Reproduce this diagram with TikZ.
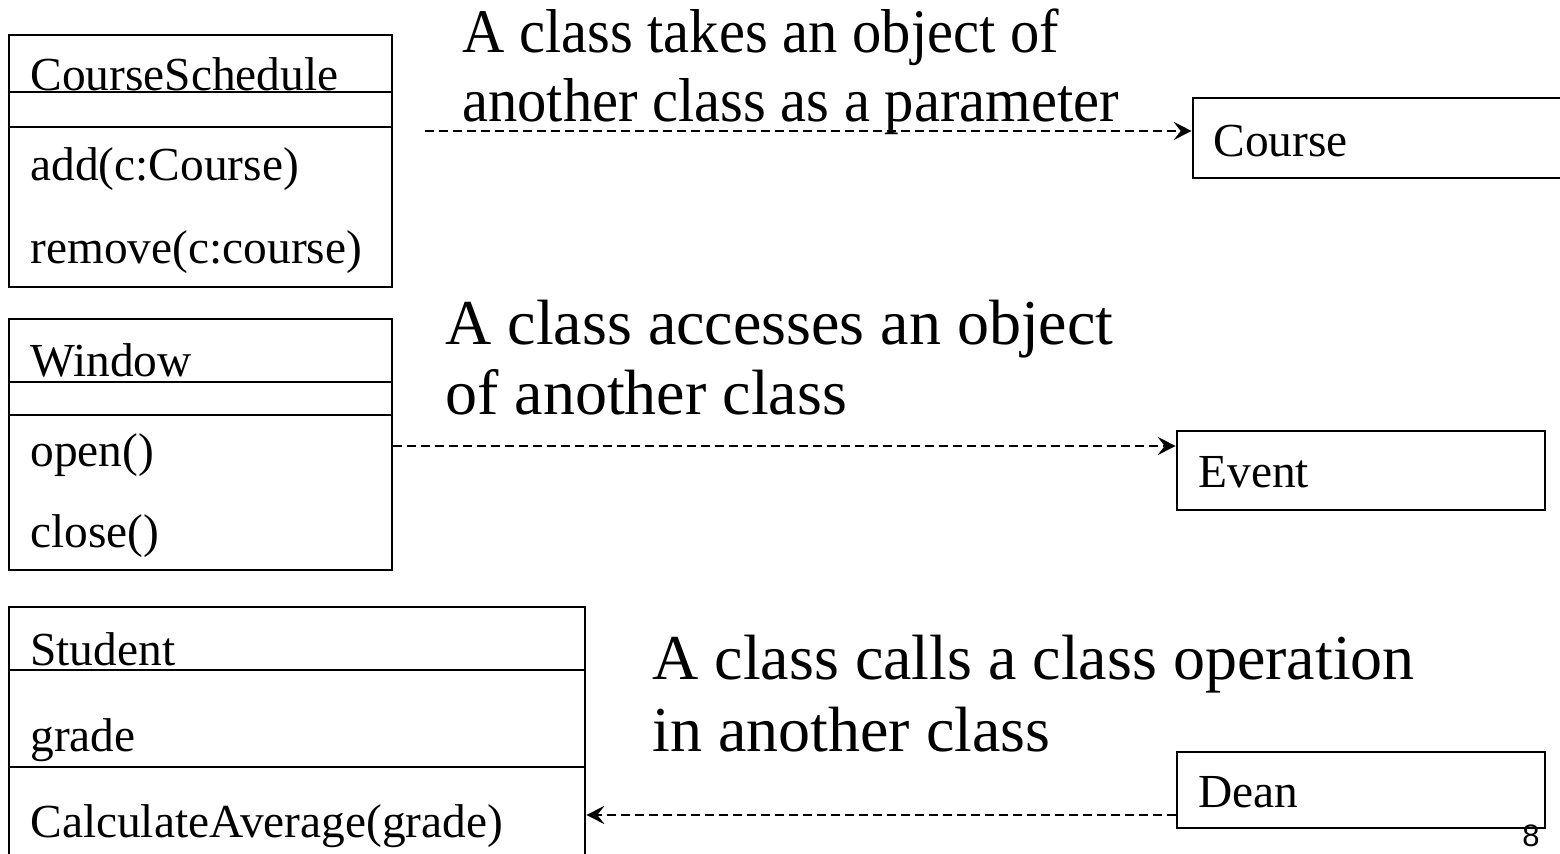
\documentclass[tikz,border=0pt]{standalone}
\usepackage{fontspec}
\setmainfont{Liberation Serif}
\newfontfamily\digitfont{Liberation Sans}
\usetikzlibrary{arrows.meta,fit}
\newcommand{\narrowtext}[1]{\scalebox{0.944}[1]{#1}}
\begin{document}
\begin{tikzpicture}[x=0.5pt,y=-0.5pt,
  classbox/.style={draw,line width=1.3pt,inner sep=0pt},
  divider/.style={line width=1.3pt},
  member/.style={anchor=base west,inner sep=0pt,font=\fontsize{23.7}{28}\selectfont},
  caption/.style={anchor=base west,inner sep=0pt,font=\fontsize{32}{40}\selectfont},
  narrowcaption/.style={anchor=base west,inner sep=0pt,font=\fontsize{31}{38}\selectfont},
  dep/.style={line width=1.3pt,dash pattern=on 4.5pt off 2.5pt,
    -{Stealth[length=9pt,width=9pt,inset=3.5pt]}}]
\useasboundingbox (0,0) rectangle (1560,854);
\clip (0,0) rectangle (1560,854);

% CourseSchedule class
\node[classbox,fit={(9,35) (392,287)}] (cs) {};
\draw[divider] (cs.west |- 0,92) -- (cs.east |- 0,92);
\draw[divider] (cs.west |- 0,127) -- (cs.east |- 0,127);
\node[member] (csname) at (30,91) {CourseSchedule};
\node[member] (csadd) at (30,181) {add(c:Course)};
\node[member] (csrem) at (30,264) {remove(c:course)};

% Window class
\node[classbox,fit={(9,319) (392,570)}] (win) {};
\draw[divider] (win.west |- 0,382) -- (win.east |- 0,382);
\draw[divider] (win.west |- 0,415) -- (win.east |- 0,415);
\node[member] (winname) at (30,377) {Window};
\node[member] (winopen) at (30,467) {open()};
\node[member] (winclose) at (30,548) {close()};

% Student class (runs past the lower edge)
\node[classbox,fit={(9,607) (585,880)}] (stu) {};
\draw[divider] (stu.west |- 0,670) -- (stu.east |- 0,670);
\draw[divider] (stu.west |- 0,767) -- (stu.east |- 0,767);
\node[member] (stuname) at (30,666) {Student};
\node[member] (stugrade) at (30,752) {grade};
\node[member] (stucalc) at (30,838) {CalculateAverage(grade)};

% Right-hand classes
\node[classbox,fit={(1193,98) (1600,178)}] (course) {};
\node[member] (coursename) at (1213,157) {Course};
\node[classbox,fit={(1177,431) (1545,510)}] (event) {};
\node[member] (eventname) at (1198,488) {Event};
\node[classbox,fit={(1177,752) (1545,828)}] (dean) {};
\node[member] (deanname) at (1198,808) {Dean};

% Captions
\node[narrowcaption] (c1a) at (462,53) {\narrowtext{A class takes an object of}};
\node[narrowcaption] (c1b) at (462,122) {\narrowtext{another class as a parameter}};
\node[caption] (c2a) at (445,345) {A class accesses an object};
\node[caption] (c2b) at (445,415) {of another class};
\node[caption] (c3a) at (652,680) {A class calls a class operation};
\node[caption] (c3b) at (652,752) {in another class};

% Dependencies
\coordinate (d1start) at (425,131);
\draw[dep] (d1start) -- (d1start -| course.west);
\draw[dep] (win.east |- 0,446) -- (event.west |- 0,446);
\draw[dep] (dean.west |- 0,815) -- (stu.east |- 0,815);

% Page number
\node[anchor=base east,inner sep=0pt,font=\digitfont\fontsize{15.5}{18}\selectfont] (pagenum) at (1540,847) {8};
\end{tikzpicture}
\end{document}
